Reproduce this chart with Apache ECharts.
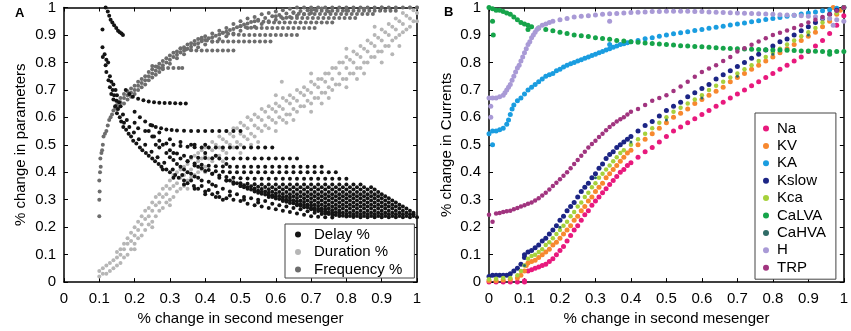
<!DOCTYPE html>
<html>
<head>
<meta charset="utf-8">
<script src="https://cdn.jsdelivr.net/npm/echarts@6/dist/echarts.min.js"></script>
<style>
html, body { margin: 0; padding: 0; background: #fff; }
#main { width: 851px; height: 331px; }
</style>
</head>
<body>
<div id="main"></div>
<script>
// ---- panel A : % change in parameters ----
var delayTop = [[.109,.92],[.118,1],[.124,.985],[.128,.97],[.132,.955],[.137,.945],[.142,.935],[.148,.925],[.153,.915],[.158,.91],[.163,.905],[.167,.9]];
var delayLeft = [[.109,.855],[.11,.82],[.115,.83],[.12,.81],[.118,.79],[.125,.8],[.12,.765],[.13,.75],[.126,.735],[.134,.73],[.14,.72],[.13,.71],
    [.138,.7],[.146,.7],[.134,.685],[.142,.68],[.15,.68],[.14,.665],[.148,.66],[.156,.655],[.145,.64],[.153,.63],[.16,.64],[.15,.615],[.158,.6],
    [.167,.61],[.162,.585],[.17,.58],[.178,.59],[.168,.565],[.176,.555],[.185,.565],[.183,.54],[.19,.53],[.198,.545],[.196,.515],[.205,.505],
    [.212,.52],[.215,.49],[.222,.48],[.23,.5],[.232,.47],[.24,.46],[.248,.475],[.25,.45],[.258,.44],[.265,.455],[.268,.43],[.276,.42],[.284,.435],
    [.29,.41],[.3,.4],[.308,.41],[.315,.39],[.325,.38],[.335,.39],[.34,.37],[.35,.36],[.36,.37],[.368,.35],[.38,.34],[.39,.35],[.4,.33],[.41,.335],
    [.42,.32],[.435,.325],[.44,.31],[.46,.305],[.47,.315],[.48,.3],[.5,.295],[.51,.3],[.52,.285],[.54,.28],[.55,.29],[.56,.275],[.58,.27],[.6,.265],
    [.62,.26],[.64,.255],[.66,.25],[.68,.245],[.7,.24],[.72,.238],[.74,.236],[.76,.235]];
var delayCommas = [[.2,.58],[.21,.56],[.23,.55],[.25,.53],[.26,.5],[.27,.49],[.29,.47],[.3,.455],[.31,.445],[.32,.43],[.33,.42],[.34,.41],
    [.35,.4],[.36,.395],[.37,.385],[.38,.38],[.39,.37],[.41,.365],[.42,.355],[.43,.35],[.45,.34],[.47,.33],[.49,.32],[.51,.31],[.53,.305],
    [.55,.3],[.57,.295],[.59,.285],[.61,.28],[.63,.275],[.65,.27],[.67,.265],[.69,.258],[.71,.253],[.73,.248],[.25,.57],[.27,.545],[.3,.52],
    [.33,.51],[.36,.5],[.4,.47],[.43,.46],[.46,.43],[.37,.5],[.4,.5],[.28,.41],[.31,.38],[.34,.355],[.37,.34],[.4,.32],[.43,.31],[.45,.3]];
var delayRows = [
  [[.175,.7],[.185,.685],[.195,.675],[.21,.668],[.225,.662],[.24,.658],[.255,.655],[.27,.653],[.285,.652],[.3,.652],[.315,.651],[.33,.65],[.345,.65]],
  [[.2,.62],[.215,.6],[.23,.585],[.245,.572],[.26,.565],[.275,.56],[.29,.556],[.305,.554],[.32,.552],[.34,.551],[.36,.55],[.38,.55],[.4,.55],[.42,.55],[.44,.55],[.46,.55],[.48,.55],[.5,.55]],
  [[.24,.55],[.255,.53],[.27,.515],[.29,.505],[.31,.5],[.33,.496],[.35,.493],[.37,.491],[.39,.49],[.41,.49],[.43,.49],[.45,.49],[.47,.49],[.49,.49],[.51,.49],[.53,.49],[.55,.49],[.57,.49],[.59,.49]],
  [[.28,.5],[.3,.48],[.32,.468],[.34,.46],[.36,.456],[.38,.453],[.4,.452],[.42,.451],[.44,.45],[.46,.45],[.48,.45],[.5,.45],[.52,.45],[.54,.45],[.56,.45],[.58,.45],[.6,.45],[.62,.45],[.64,.45],[.66,.45]],
  [[.31,.47],[.33,.45],[.35,.44],[.37,.432],[.39,.427],[.41,.424],[.43,.422],[.45,.421],[.47,.42],[.49,.42],[.51,.42],[.53,.42],[.55,.42],[.57,.42],[.59,.42],[.61,.42],[.63,.42],[.65,.42],[.67,.42],[.69,.42],[.71,.42],[.73,.42]],
  [[.35,.44],[.37,.425],[.39,.415],[.41,.408],[.43,.404],[.45,.402],[.47,.4],[.49,.4],[.51,.4],[.53,.4],[.55,.4],[.57,.4],[.59,.4],[.61,.4],[.63,.4],[.65,.4],[.67,.4],[.69,.4],[.71,.4],[.73,.4],[.75,.4],[.77,.4]],
  [[.38,.42],[.4,.405],[.42,.395],[.44,.388],[.46,.383],[.48,.38],[.5,.378],[.52,.377],[.54,.376],[.56,.376],[.58,.376],[.6,.376],[.62,.376],[.64,.376],[.66,.376],[.68,.376],[.7,.376],[.72,.376],[.74,.376],[.76,.376],[.78,.376],[.8,.376]],
  [[.42,.395],[.44,.38],[.46,.37],[.48,.364],[.5,.36],[.52,.358],[.54,.356],[.56,.355],[.58,.355],[.6,.355],[.62,.355],[.64,.355],[.66,.355],[.68,.355],[.7,.355],[.72,.355],[.74,.355],[.76,.355],[.78,.355],[.8,.355],[.82,.355],[.84,.355]],
  [[.46,.37],[.48,.358],[.5,.35],[.52,.345],[.54,.341],[.56,.339],[.58,.338],[.6,.337],[.62,.337],[.64,.337],[.66,.337],[.68,.337],[.7,.337],[.72,.337],[.74,.337],[.76,.337],[.78,.337],[.8,.337],[.82,.337],[.84,.337],[.86,.337],[.88,.337]],
  [[.5,.35],[.52,.34],[.54,.333],[.56,.328],[.58,.325],[.6,.323],[.62,.321],[.64,.32],[.66,.32],[.68,.32],[.7,.32],[.72,.32],[.74,.32],[.76,.32],[.78,.32],[.8,.32],[.82,.32],[.84,.32],[.86,.32],[.88,.32],[.9,.32]],
  [[.54,.33],[.56,.322],[.58,.316],[.6,.312],[.62,.309],[.64,.307],[.66,.306],[.68,.305],[.7,.305],[.72,.305],[.74,.305],[.76,.305],[.78,.305],[.8,.305],[.82,.305],[.84,.305],[.86,.305],[.88,.305],[.9,.305],[.92,.305]],
  [[.58,.31],[.6,.304],[.62,.3],[.64,.297],[.66,.294],[.68,.292],[.7,.291],[.72,.29],[.74,.29],[.76,.29],[.78,.29],[.8,.29],[.82,.29],[.84,.29],[.86,.29],[.88,.29],[.9,.29],[.92,.29],[.94,.29]],
  [[.62,.295],[.64,.288],[.66,.284],[.68,.281],[.7,.279],[.72,.277],[.74,.276],[.76,.275],[.78,.275],[.8,.275],[.82,.275],[.84,.275],[.86,.275],[.88,.275],[.9,.275],[.92,.275],[.94,.275],[.96,.275]],
  [[.66,.28],[.68,.273],[.7,.269],[.72,.266],[.74,.264],[.76,.262],[.78,.261],[.8,.26],[.82,.26],[.84,.26],[.86,.26],[.88,.26],[.9,.26],[.92,.26],[.94,.26],[.96,.26],[.98,.26]],
  [[.7,.265],[.72,.259],[.74,.255],[.76,.252],[.78,.25],[.8,.248],[.82,.247],[.84,.247],[.86,.247],[.88,.247],[.9,.247],[.92,.247],[.94,.247],[.96,.247],[.98,.247],[.99,.247]],
  [[.74,.25],[.76,.245],[.78,.241],[.8,.239],[.82,.237],[.84,.236],[.86,.236],[.88,.236],[.9,.236],[.92,.236],[.94,.236],[.96,.236],[.98,.236],[1,.236]],
  // in-between rows filling the dark wedge
  [[.47,.37],[.49,.36],[.51,.353],[.53,.349],[.55,.347],[.57,.346],[.59,.345],[.61,.345],[.63,.345],[.65,.345],[.67,.345],[.69,.345],[.71,.345],[.73,.345],[.75,.345],[.77,.345],[.79,.345],[.81,.345],[.83,.345],[.85,.345],[.87,.345]],
  [[.51,.345],[.53,.337],[.55,.333],[.57,.33],[.59,.329],[.61,.328],[.63,.328],[.65,.328],[.67,.328],[.69,.328],[.71,.328],[.73,.328],[.75,.328],[.77,.328],[.79,.328],[.81,.328],[.83,.328],[.85,.328],[.87,.328],[.89,.328]],
  [[.55,.325],[.57,.319],[.59,.316],[.61,.314],[.63,.313],[.65,.313],[.67,.313],[.69,.313],[.71,.313],[.73,.313],[.75,.313],[.77,.313],[.79,.313],[.81,.313],[.83,.313],[.85,.313],[.87,.313],[.89,.313],[.91,.313]],
  [[.59,.31],[.61,.303],[.63,.3],[.65,.298],[.67,.297],[.69,.297],[.71,.297],[.73,.297],[.75,.297],[.77,.297],[.79,.297],[.81,.297],[.83,.297],[.85,.297],[.87,.297],[.89,.297],[.91,.297],[.93,.297]],
  [[.63,.293],[.65,.287],[.67,.284],[.69,.283],[.71,.282],[.73,.282],[.75,.282],[.77,.282],[.79,.282],[.81,.282],[.83,.282],[.85,.282],[.87,.282],[.89,.282],[.91,.282],[.93,.282],[.95,.282]],
  [[.67,.278],[.69,.273],[.71,.27],[.73,.268],[.75,.268],[.77,.268],[.79,.268],[.81,.268],[.83,.268],[.85,.268],[.87,.268],[.89,.268],[.91,.268],[.93,.268],[.95,.268],[.97,.268]],
  [[.71,.263],[.73,.258],[.75,.255],[.77,.254],[.79,.253],[.81,.253],[.83,.253],[.85,.253],[.87,.253],[.89,.253],[.91,.253],[.93,.253],[.95,.253],[.97,.253],[.99,.253]],
  [[.75,.248],[.77,.244],[.79,.242],[.81,.241],[.83,.241],[.85,.241],[.87,.241],[.89,.241],[.91,.241],[.93,.241],[.95,.241],[.97,.241],[.99,.241]]
];

// duration: each entry is [x, y, y, ...]
var durationCols = [
  [.1,.02,.04],[.11,.03,.05],[.12,.03,.06],[.13,.04,.07],[.14,.05,.08],[.15,.06,.09,.11],[.16,.07,.1,.12],[.17,.09,.12,.14],
  [.18,.1,.14,.16],[.19,.12,.15,.18],[.2,.14,.17,.2],[.21,.16,.19,.22],[.22,.17,.21,.24],[.23,.19,.23,.26],[.24,.21,.24,.27],
  [.25,.22,.26,.29],[.26,.24,.28,.31],[.27,.26,.29,.32],[.28,.27,.31,.34],[.29,.29,.32,.35],[.3,.3,.34,.37],[.31,.31,.35,.39],
  [.32,.33,.36,.4],[.33,.34,.38,.41],[.34,.35,.39,.42],[.35,.37,.4,.43],[.36,.38,.41,.45],[.37,.39,.43,.46],[.38,.4,.44,.47],
  [.39,.41,.45,.48],[.4,.42,.46,.49],[.42,.44,.48,.51],[.44,.46,.49,.53],[.46,.47,.51,.55],[.48,.49,.53,.56],[.5,.5,.54,.58],
  [.52,.52,.56,.6],[.54,.53,.57,.61],[.56,.55,.59,.63],[.58,.56,.6,.64],[.6,.58,.62,.65,.68],[.617,.73],[.62,.59,.63,.67],[.64,.61,.65,.68],
  [.66,.62,.66,.7],[.68,.64,.68,.71],[.7,.65,.69,.73,.76],[.72,.67,.71,.74],[.74,.69,.73,.76],[.76,.7,.74,.78],[.78,.72,.76,.8],
  [.8,.74,.78,.82,.85],[.82,.76,.8,.84],[.84,.78,.82,.86],[.86,.8,.84,.88],[.88,.82,.86,.9,.93],[.9,.84,.88,.92],[.92,.86,.9,.94],
  [.94,.89,.92,.96],[.96,.91,.94,.98],[.98,.93,.96,1],[1,.95,.98,1],
  [.41,.45,.49],[.43,.46,.5],[.45,.48,.52],[.47,.5,.54],[.49,.51,.56],[.51,.53,.57],[.53,.54,.59],[.55,.56,.6],[.57,.57,.62],
  [.59,.59,.63],[.61,.6,.64],[.63,.61,.66],[.65,.63,.67],[.67,.64,.69],[.69,.66,.7],[.71,.67,.72],[.73,.69,.74],[.75,.71,.76],
  [.77,.72,.78],[.79,.74,.8],[.81,.76,.81],[.83,.78,.83],[.85,.8,.85],[.87,.82,.87],[.89,.84,.89],[.91,.86,.91],[.93,.88,.93],
  [.95,.9,.95],[.97,.92,.97],[.99,.95,.99],
  // lower fringe of the band
  [.2,.12],[.25,.2],[.3,.28],[.35,.34],[.4,.4],[.45,.44],[.5,.47],[.55,.51],[.6,.55],[.65,.59],[.7,.62],[.75,.67],[.8,.71],[.85,.76],
  [.9,.8],[.95,.86],[.53,.5],[.63,.58],[.73,.65],[.83,.74],[.93,.83]
];

var freqEnvUpper = [[.15,.66],[.16,.67],[.17,.685],[.18,.695],[.19,.705],[.2,.715],[.21,.73],[.22,.74],[.23,.75],[.24,.765],[.25,.775],[.26,.785],
    [.27,.795],[.28,.805],[.29,.815],[.3,.825],[.31,.835],[.32,.84],[.33,.85],[.34,.855],[.35,.865],[.36,.87],[.37,.878],[.38,.885],[.39,.89],
    [.4,.895],[.42,.905],[.44,.915],[.46,.925],[.48,.94],[.5,.95],[.52,.96],[.54,.965],[.56,.975],[.58,.98],[.6,.985],[.62,.99],[.64,.995],
    [.66,1],[.68,1],[.7,1],[.72,1],[.74,1],[.76,1],[.78,1],[.8,1],[.82,1],[.84,1],[.86,1],[.88,1],[.9,1],[.92,1],[.94,1],[.96,1],[.98,1],[1,1]];
var freqEnvMid = [[.15,.645],[.16,.655],[.17,.67],[.18,.68],[.19,.69],[.2,.7],[.21,.715],[.22,.725],[.23,.735],[.24,.75],[.25,.76],[.26,.77],
    [.27,.78],[.28,.79],[.29,.8],[.3,.81],[.31,.82],[.32,.828],[.33,.836],[.34,.843],[.35,.85],[.36,.857],[.37,.865],[.38,.87],[.39,.877],
    [.4,.882],[.41,.888],[.42,.892],[.43,.897],[.44,.902],[.45,.908],[.46,.912],[.47,.918],[.48,.922],[.49,.928],[.5,.933],[.51,.938],
    [.52,.942],[.53,.947],[.54,.95],[.55,.955],[.57,.962],[.59,.968],[.61,.973],[.63,.978],[.65,.983],[.67,.987],[.69,.99],[.71,.993],[.73,.996]];
var freqEnvLower = [[.1,.24],[.1,.3],[.101,.33],[.1,.37],[.102,.4],[.104,.42],[.103,.45],[.106,.47],[.108,.48],[.11,.5],[.112,.53],[.116,.54],
    [.12,.55],[.124,.57],[.128,.59],[.132,.6],[.136,.61],[.14,.625],[.145,.635],[.15,.63],[.16,.64],[.17,.65],[.18,.665],[.19,.675],[.2,.685],
    [.21,.7],[.22,.71],[.23,.72],[.24,.735],[.25,.745],[.26,.755],[.27,.765],[.28,.775],[.3,.795],[.32,.815],[.34,.83],[.36,.845],[.38,.855],
    [.4,.865],[.42,.875],[.44,.885],[.46,.895],[.48,.905],[.5,.915],[.52,.925],[.54,.93],[.56,.94],[.58,.95],[.6,.955],[.62,.96],[.64,.965],
    [.66,.97],[.68,.975],[.7,.98],[.75,.985],[.8,.99],[.85,.995],[.9,1]];
var freqRows = [
  [[.25,.787],[.265,.783],[.28,.781],[.295,.78],[.31,.78],[.325,.78],[.335,.78]],
  [[.33,.852],[.345,.847],[.36,.844],[.375,.843],[.39,.843],[.405,.843],[.42,.843],[.435,.843],[.45,.843],[.465,.843],[.48,.843]],
  [[.39,.884],[.405,.88],[.42,.877],[.435,.876],[.45,.876],[.465,.876],[.48,.876],[.495,.876],[.51,.876],[.525,.876],[.54,.876],[.555,.876],[.57,.876],[.585,.876]],
  [[.45,.908],[.465,.904],[.48,.902],[.495,.901],[.51,.9],[.525,.9],[.54,.9],[.555,.9],[.57,.9],[.585,.9],[.6,.9],[.615,.9],[.63,.9],[.645,.9],[.66,.9]],
  [[.5,.932],[.515,.928],[.53,.926],[.545,.925],[.56,.925],[.575,.925],[.59,.925],[.605,.925],[.62,.925],[.635,.925],[.65,.925],[.665,.925],[.68,.925],[.695,.925],[.71,.925]],
  [[.55,.952],[.565,.948],[.58,.946],[.595,.945],[.61,.945],[.625,.945],[.64,.945],[.655,.945],[.67,.945],[.685,.945],[.7,.945],[.715,.945],[.73,.945],[.745,.945],[.76,.945]],
  [[.6,.968],[.615,.965],[.63,.963],[.645,.962],[.66,.962],[.675,.962],[.69,.962],[.705,.962],[.72,.962],[.735,.962],[.75,.962],[.765,.962],[.78,.962],[.795,.962],[.81,.962],[.825,.962]],
  [[.65,.98],[.665,.977],[.68,.976],[.695,.976],[.71,.976],[.725,.976],[.74,.976],[.755,.976],[.77,.976],[.785,.976],[.8,.976],[.815,.976],[.83,.976],[.845,.976],[.86,.976],[.875,.976]],
  [[.7,.99],[.715,.988],[.73,.988],[.745,.988],[.76,.988],[.775,.988],[.79,.988],[.805,.988],[.82,.988],[.835,.988],[.85,.988],[.865,.988],[.88,.988],[.895,.988],[.91,.988],[.925,.988],[.94,.988]]
];

// ---- panel B : % change in currents ----
var naPts = [[0,0],[.02,0],[.04,0],[.06,0],[.08,0],[.1,0],[.1,.005],[.11,.04],[.12,.045],[.13,.05],[.14,.055],[.15,.06],[.16,.065],[.17,.075],
    [.18,.085],[.19,.1],[.2,.115],[.21,.13],[.22,.15],[.23,.17],[.24,.19],[.25,.205],[.26,.225],[.27,.245],[.28,.26],[.29,.28],[.3,.295],
    [.31,.31],[.32,.325],[.33,.34],[.34,.355],[.35,.37],[.36,.385],[.37,.4],[.38,.41],[.39,.425],[.4,.435],[.42,.455],[.44,.475],[.46,.49],
    [.48,.51],[.5,.53],[.52,.55],[.54,.565],[.56,.58],[.58,.595],[.6,.61],[.62,.625],[.64,.64],[.66,.655],[.68,.67],[.7,.685],[.72,.7],[.74,.715],
    [.76,.73],[.78,.745],[.8,.76],[.82,.775],[.84,.79],[.86,.805],[.88,.82],[.9,.84],[.92,.86],[.94,.88],[.96,.905],[.98,.935],[1,.97]];
var kvPts = [[0,.005],[.02,.005],[.04,.008],[.06,.01],[.08,.015],[.09,.025],[.1,.04],[.105,.06],[.11,.07],[.12,.075],[.13,.08],[.14,.09],
    [.15,.1],[.16,.11],[.17,.12],[.18,.135],[.19,.145],[.2,.16],[.21,.175],[.22,.19],[.23,.205],[.24,.225],[.25,.24],[.26,.26],[.27,.275],
    [.28,.295],[.29,.31],[.3,.33],[.31,.345],[.32,.36],[.33,.38],[.34,.395],[.35,.41],[.36,.425],[.37,.44],[.38,.455],[.39,.47],[.4,.48],
    [.42,.5],[.44,.52],[.46,.54],[.48,.56],[.5,.58],[.52,.6],[.54,.615],[.56,.63],[.58,.65],[.6,.665],[.62,.68],[.64,.695],[.66,.71],[.68,.73],
    [.7,.745],[.72,.76],[.74,.775],[.76,.79],[.78,.805],[.8,.82],[.82,.835],[.84,.85],[.86,.865],[.88,.88],[.9,.895],[.92,.91],[.94,.93],
    [.96,.95],[.97,1],[.98,.975],[.99,.99],[1,1]];
var kaPts = [[0,.54],[.01,.5],[.01,.55],[.02,.55],[.03,.555],[.04,.56],[.05,.575],[.055,.59],[.06,.61],[.065,.63],[.07,.645],[.08,.66],[.09,.67],
    [.1,.685],[.11,.7],[.12,.71],[.13,.72],[.14,.73],[.15,.74],[.16,.75],[.17,.755],[.18,.76],[.19,.77],[.2,.775],[.21,.783],[.22,.79],[.23,.795],
    [.24,.8],[.25,.805],[.26,.81],[.27,.815],[.28,.82],[.29,.825],[.3,.83],[.31,.835],[.32,.84],[.33,.845],[.34,.85],[.34,.865],[.35,.855],
    [.36,.86],[.37,.865],[.38,.868],[.39,.872],[.4,.875],[.42,.88],[.44,.886],[.46,.89],[.48,.895],[.5,.9],[.52,.904],[.54,.908],[.56,.912],
    [.58,.916],[.6,.92],[.62,.924],[.64,.928],[.66,.932],[.68,.936],[.7,.94],[.72,.944],[.74,.948],[.76,.952],[.78,.956],[.8,.96],[.82,.964],
    [.84,.968],[.86,.972],[.88,.976],[.9,.98],[.92,.984],[.94,.988],[.96,.992],[.98,.997],[1,1]];
var kslowPts = [[0,.02],[.01,.025],[.02,.025],[.03,.025],[.04,.025],[.05,.025],[.06,.03],[.07,.04],[.08,.05],[.09,.065],[.1,.09],[.1,.1],
    [.11,.11],[.12,.115],[.13,.125],[.14,.135],[.15,.15],[.16,.16],[.17,.175],[.18,.19],[.19,.205],[.2,.225],[.21,.24],[.22,.26],[.23,.275],
    [.24,.29],[.25,.31],[.26,.33],[.27,.345],[.28,.36],[.29,.38],[.3,.395],[.31,.415],[.32,.43],[.33,.45],[.34,.465],[.35,.475],[.36,.49],
    [.37,.5],[.38,.51],[.39,.52],[.4,.53],[.42,.55],[.44,.57],[.46,.585],[.48,.605],[.5,.625],[.52,.64],[.54,.655],[.56,.675],[.58,.69],
    [.6,.705],[.62,.72],[.64,.74],[.66,.755],[.68,.77],[.7,.785],[.72,.8],[.74,.815],[.76,.83],[.78,.845],[.8,.86],[.82,.875],[.84,.885],
    [.86,.9],[.88,.915],[.9,.93],[.92,.945],[.94,.96],[.96,.975],[.98,.99],[1,1]];
var kcaPts = [[0,.01],[.02,.012],[.04,.015],[.06,.015],[.08,.025],[.09,.04],[.1,.06],[.11,.085],[.12,.095],[.13,.1],[.14,.11],[.15,.12],
    [.16,.135],[.17,.145],[.18,.16],[.19,.175],[.2,.19],[.21,.205],[.22,.22],[.23,.24],[.24,.255],[.25,.275],[.26,.29],[.27,.31],[.28,.325],
    [.29,.345],[.3,.36],[.31,.38],[.32,.395],[.33,.41],[.34,.425],[.35,.44],[.36,.455],[.37,.47],[.38,.48],[.4,.5],[.42,.52],[.44,.54],
    [.46,.56],[.48,.58],[.5,.6],[.52,.62],[.54,.635],[.56,.65],[.58,.665],[.6,.68],[.62,.7],[.64,.715],[.66,.73],[.68,.745],[.7,.76],
    [.72,.775],[.74,.79],[.76,.805],[.78,.82],[.8,.835],[.82,.85],[.84,.865],[.86,.88],[.88,.895],[.9,.91],[.92,.925],[.94,.945],[.96,.96],
    [.98,.98],[1,1]];
var calvaPts = [[0,1],[.01,.95],[.012,.9],[.01,.995],[.02,.99],[.03,.99],[.04,.985],[.05,.98],[.06,.975],[.07,.965],[.08,.955],[.09,.945],
    [.1,.94],[.11,.935],[.11,.92],[.12,.93],[.14,.925],[.16,.92],[.18,.915],[.2,.91],[.22,.905],[.24,.9],[.26,.897],[.28,.894],[.3,.89],
    [.32,.887],[.34,.884],[.36,.88],[.38,.878],[.4,.875],[.42,.873],[.44,.871],[.46,.869],[.48,.867],[.5,.865],[.52,.863],[.54,.861],[.56,.86],
    [.58,.858],[.6,.857],[.62,.855],[.64,.853],[.66,.852],[.68,.851],[.7,.85],[.72,.849],[.74,.848],[.76,.847],[.78,.846],[.8,.845],[.82,.845],
    [.84,.844],[.86,.843],[.88,.842],[.9,.842],[.92,.841],[.94,.84],[.96,.84],[.96,.83],[.98,.84],[1,.84]];
var cahvaPts = [[.1,.06],[.2,.2],[.3,.38],[.4,.51],[.5,.59],[.6,.67],[.7,.75],[.8,.83],[.9,.9]];
var hPts = [[0,.67],[.005,.6],[.005,.64],[.01,.67],[.02,.67],[.03,.675],[.04,.68],[.045,.69],[.05,.7],[.055,.71],[.06,.72],[.065,.735],[.07,.75],
    [.075,.765],[.08,.78],[.085,.79],[.09,.805],[.095,.82],[.1,.835],[.105,.85],[.11,.865],[.115,.875],[.12,.89],[.125,.9],[.13,.91],[.135,.92],
    [.14,.925],[.15,.935],[.16,.94],[.17,.945],[.18,.95],[.2,.955],[.22,.96],[.24,.965],[.26,.968],[.28,.97],[.3,.973],[.32,.975],[.34,.977],
    [.34,.95],[.36,.978],[.38,.98],[.4,.982],[.42,.983],[.44,.984],[.46,.985],[.48,.985],[.5,.986],[.52,.986],[.54,.986],[.56,.986],[.58,.985],
    [.6,.985],[.62,.984],[.64,.983],[.66,.982],[.68,.981],[.7,.98],[.72,.979],[.74,.978],[.76,.977],[.78,.976],[.8,.975],[.82,.974],[.84,.973],
    [.86,.972],[.88,.97],[.9,.968],[.92,.966],[.94,.964],[.96,.96],[.97,.935],[.98,.955],[1,.95]];
var trpPts = [[0,.245],[.01,.22],[.02,.25],[.03,.252],[.04,.255],[.05,.258],[.06,.26],[.07,.265],[.08,.27],[.09,.275],[.1,.28],[.11,.285],
    [.12,.29],[.13,.297],[.14,.305],[.15,.315],[.16,.325],[.17,.337],[.18,.35],[.19,.362],[.2,.375],[.21,.387],[.22,.4],[.23,.415],[.24,.43],
    [.25,.445],[.26,.46],[.27,.475],[.28,.49],[.29,.503],[.3,.515],[.31,.528],[.32,.54],[.33,.553],[.34,.565],[.35,.575],[.36,.585],[.37,.593],
    [.38,.6],[.39,.61],[.4,.62],[.42,.63],[.44,.645],[.46,.66],[.48,.67],[.5,.68],[.52,.696],[.54,.712],[.56,.73],[.58,.748],[.6,.765],
    [.62,.778],[.64,.79],[.66,.805],[.68,.82],[.7,.84],[.72,.852],[.74,.864],[.76,.876],[.78,.888],[.8,.9],[.82,.908],[.84,.916],[.86,.925],
    [.88,.935],[.9,.945],[.92,.955],[.94,.965],[.96,.975],[.98,.988],[1,1]];

var FONT = 'Liberation Sans, Arial, sans-serif';

function cols(arr) {
    var out = [];
    arr.forEach(function (c) {
        for (var i = 1; i < c.length; i++) out.push([c[0], c[i]]);
    });
    return out;
}
function flat(rows) {
    var out = [];
    rows.forEach(function (r) { out = out.concat(r); });
    return out;
}

function axis(grid, pos, name, gap, labels) {
    var vertical = (pos == 'left' || pos == 'right');
    return {
        type: 'value', gridIndex: grid, position: pos,
        min: 0, max: 1, interval: 0.1,
        name: name || '', nameLocation: 'middle', nameGap: gap || 0,
        nameRotate: vertical ? 90 : 0,
        nameTextStyle: {fontFamily: FONT, fontSize: 15, color: '#000'},
        axisLine: {show: true, onZero: false, lineStyle: {color: '#000', width: 1.5}},
        axisTick: {show: true, inside: true, length: 4, lineStyle: {color: '#000', width: 1}},
        axisLabel: {
            show: !!labels, margin: vertical ? 8 : 9,
            fontFamily: FONT, fontSize: 15, color: '#000',
            formatter: function (v) { return String(+v.toFixed(1)); }
        },
        splitLine: {show: false}
    };
}

function sc(name, data, color, size, xi, yi) {
    return {
        name: name, type: 'scatter', data: data,
        xAxisIndex: xi, yAxisIndex: yi,
        symbol: 'circle', symbolSize: size,
        itemStyle: {color: color, opacity: 1},
        silent: true
    };
}

var chart = echarts.init(document.getElementById('main'));

var option = {
    animation: false,
    backgroundColor: '#fff',
    title: [
        {text: 'A', left: 10, top: 2, textStyle: {fontFamily: FONT, fontSize: 13, fontWeight: 'bold', color: '#000'}},
        {text: 'B', left: 439, top: 1, textStyle: {fontFamily: FONT, fontSize: 13, fontWeight: 'bold', color: '#000'}}
    ],
    grid: [
        {left: 64, right: 434, top: 6, bottom: 45},
        {left: 489, right: 7, top: 6, bottom: 45}
    ],
    xAxis: [
        axis(0, 'bottom', '% change in second mesenger', 28, true),
        axis(0, 'top'),
        axis(1, 'bottom', '% change in second mesenger', 28, true),
        axis(1, 'top')
    ],
    yAxis: [
        axis(0, 'left', '% change in parameters', 36, true),
        axis(0, 'right'),
        axis(1, 'left', '% change in Currents', 35, true),
        axis(1, 'right')
    ],
    legend: [
        {
            data: ['Delay %', 'Duration %', 'Frequency %'],
            orient: 'vertical', left: 285, top: 224,
            icon: 'circle', itemWidth: 22, itemHeight: 6, itemGap: 2.5,
            padding: [3, 12, 1, 10],
            borderColor: '#444', borderWidth: 1, backgroundColor: '#fff',
            selectedMode: false, textStyle: {fontFamily: FONT, fontSize: 15, color: '#000', lineHeight: 14}
        },
        {
            data: ['Na', 'KV', 'KA', 'Kslow', 'Kca', 'CaLVA', 'CaHVA', 'H', 'TRP'],
            orient: 'vertical', left: 755, top: 113,
            icon: 'circle', itemWidth: 12, itemHeight: 6, itemGap: 2.4,
            padding: [8, 10, 4, 8],
            borderColor: '#444', borderWidth: 1, backgroundColor: '#fff',
            selectedMode: false, textStyle: {fontFamily: FONT, fontSize: 15, color: '#000', lineHeight: 15}
        }
    ],
    series: [
        sc('Duration %', cols(durationCols), '#b6b6b6', 4, 0, 0),
        sc('Frequency %', freqEnvUpper.concat(freqEnvMid, freqEnvLower, flat(freqRows)), '#6d6d6d', 4, 0, 0),
        sc('Delay %', delayTop.concat(delayLeft, delayCommas, flat(delayRows)), '#141414', 4, 0, 0),

        sc('Na', naPts, '#e8197d', 5, 2, 2),
        sc('KV', kvPts, '#f7882f', 5, 2, 2),
        sc('KA', kaPts, '#1a9de0', 5, 2, 2),
        sc('Kslow', kslowPts, '#1c2585', 5, 2, 2),
        sc('Kca', kcaPts, '#a6d13b', 4.5, 2, 2),
        sc('CaLVA', calvaPts, '#16a44a', 5, 2, 2),
        sc('CaHVA', cahvaPts, '#2f6b66', 3, 2, 2),
        sc('H', hPts, '#a99ad6', 5, 2, 2),
        sc('TRP', trpPts, '#a1347f', 4.5, 2, 2)
    ]
};

chart.setOption(option);
</script>
</body>
</html>
